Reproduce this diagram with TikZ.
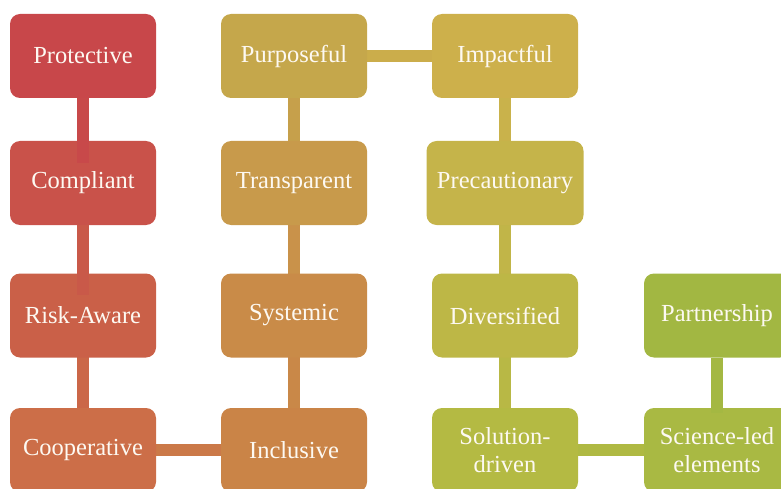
\documentclass[tikz,border=0pt]{standalone}
\usepackage{fontspec}
\setmainfont{Liberation Serif}
\usepackage{tikz}
\definecolor{cA}{HTML}{C8474A}
\definecolor{cB}{HTML}{C9524A}
\definecolor{cC}{HTML}{CA6048}
\definecolor{cD}{HTML}{CC6E48}
\definecolor{cE}{HTML}{CA8447}
\definecolor{cF}{HTML}{C98B48}
\definecolor{cG}{HTML}{C89A4B}
\definecolor{cH}{HTML}{C5A74B}
\definecolor{cI}{HTML}{CDB04B}
\definecolor{cJ}{HTML}{C5B44A}
\definecolor{cK}{HTML}{BDB746}
\definecolor{cL}{HTML}{B4BA43}
\definecolor{cM}{HTML}{A9B943}
\definecolor{cN}{HTML}{A2B742}
\definecolor{txt}{HTML}{FDF9F2}
\tikzset{
  box/.style={rounded corners=10pt, minimum width=146pt, minimum height=84pt,
    inner sep=6pt, align=center, text=txt,
    font=\fontsize{24.5}{28}\selectfont},
  link/.style={line width=12pt}
}
\begin{document}
\begin{tikzpicture}[x=1pt,y=-1pt]
\useasboundingbox (0,0) rectangle (781,489);
% connectors behind
\draw[link,color={cD!50!cE}] (83,450) -- (294,450);
\draw[link,color={cE!50!cF}] (294,450) -- (294,315);
\draw[link,color={cF!50!cG}] (294,315) -- (294,183);
\draw[link,color={cG!50!cH}] (294,183) -- (294,56);
\draw[link,color={cH!30!cI}] (294,56) -- (505,56);
\draw[link,color={cI!50!cJ}] (505,56) -- (505,183);
\draw[link,color={cJ!50!cK}] (505,183) -- (505,315);
\draw[link,color={cK!50!cL}] (505,315) -- (505,450);
\draw[link,color={cL!50!cM}] (505,450) -- (717,450);
\draw[link,color={cC!50!cD}] (83,315) -- (83,450);
% boxes
\node[box,fill=cA] (pro) at (83,56) {Protective};
\node[box,fill=cB] (com) at (83,183) {Compliant};
\node[box,fill=cC] (ris) at (83,315.5) {Risk-Aware};
\node[box,fill=cD] (coo) at (83,450) {Cooperative};
\node[box,fill=cE] (inc) at (294,450) {Inclusive};
\node[box,fill=cF] (sys) at (294,315.5) {Systemic};
\node[box,fill=cG] (tra) at (294,183) {Transparent};
\node[box,fill=cH] (pur) at (294,56) {Purposeful};
\node[box,fill=cI] (imp) at (505,56) {Impactful};
\node[box,fill=cJ,minimum width=157pt] (pre) at (505,183) {Precautionary};
\node[box,fill=cK] (div) at (505,315.5) {Diversified};
\node[box,fill=cL] (sol) at (505,450) {Solution-\\driven};
\node[box,fill=cM] (sci) at (717,450) {Science-led\\elements};
\node[box,fill=cN] (par) at (717,315.5) {Partnership};
% overlaid connectors
\coordinate (e1) at ([yshift=-22pt]com.north);
\coordinate (e2) at ([yshift=-22pt]ris.north);
\coordinate (e3) at ([yshift=-5pt]sci.north);
\draw[link,color=cA!85!cB] (pro.south) -- (e1);
\draw[link,color=cB!50!cC] (com.south) -- (e2);
\draw[link,color=cN!70!cM] (par.south) -- (e3);
\end{tikzpicture}
\end{document}
